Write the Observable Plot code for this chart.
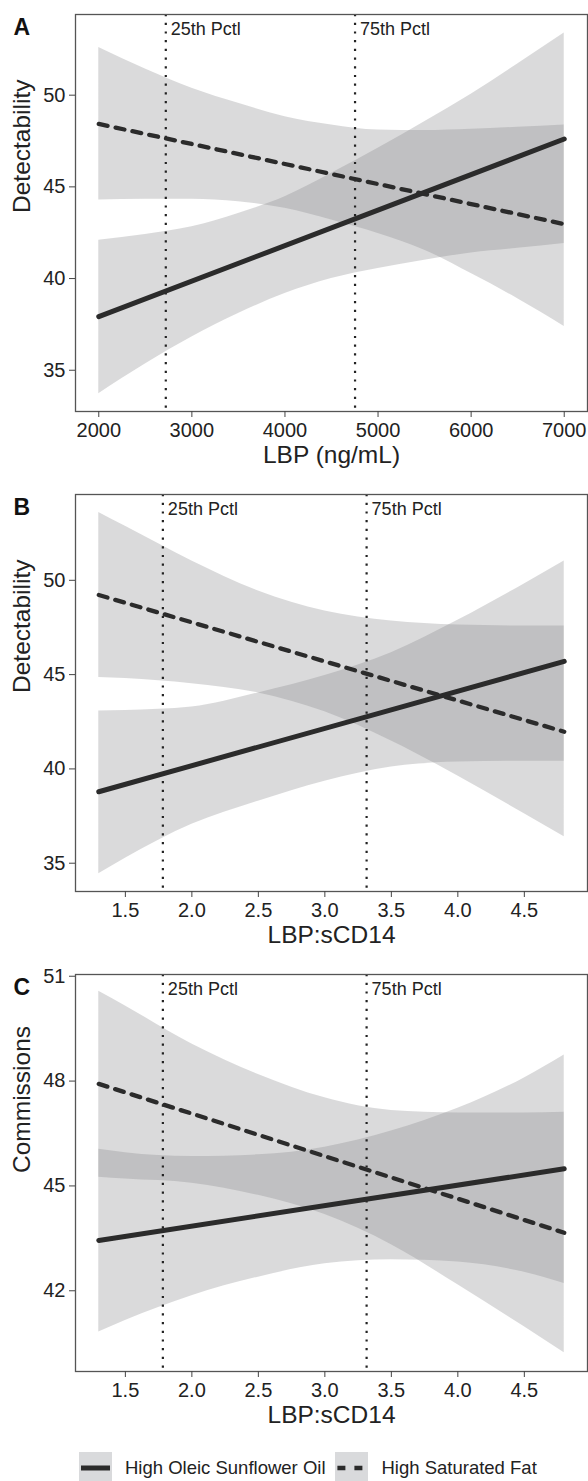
<!DOCTYPE html>
<html><head><meta charset="utf-8">
<script src="https://cdn.jsdelivr.net/npm/d3@7"></script>
<script src="https://cdn.jsdelivr.net/npm/@observablehq/plot@0.6"></script>
<style>
body{margin:0;background:#fff;font-family:"Liberation Sans",Arial,sans-serif;color:#222;}
#chart{width:588px;}
#chart svg{display:block;}
.legend{position:relative;width:588px;height:41px;overflow:hidden;}
.legend .lab{position:absolute;top:17px;font-size:18.5px;line-height:22px;white-space:nowrap;color:#222;}
.legend svg{position:absolute;top:12px;}
</style></head><body><div id="chart"></div>
<script>
// ---- data ----
const groups = ["High Oleic Sunflower Oil", "High Saturated Fat"];
const pctLabels = ["25th Pctl", "75th Pctl"];

// Panel A: Detectability vs LBP (ng/mL)
const xA = [2000, 2500, 3000, 3500, 4000, 4500, 5000, 5500, 6000, 6500, 7000];
const hosoLoA = [33.72, 35.34, 36.81, 38.09, 39.18, 40.0, 40.55, 41.0, 41.4, 41.65, 41.91];
const hosoHiA = [42.09, 42.4, 42.82, 43.55, 44.46, 45.74, 47.1, 48.55, 50.05, 51.7, 53.39];
const hsfLoA  = [44.28, 44.32, 44.32, 44.19, 43.83, 43.19, 42.46, 41.55, 40.27, 38.9, 37.39];
const hsfHiA  = [52.6, 51.43, 50.38, 49.56, 48.83, 48.38, 48.1, 48.07, 48.14, 48.25, 48.38];
const hosoLineA = [37.92, 47.61];
const hsfLineA  = [48.43, 42.97];
const pctA = [2720, 4753];

// Panel B: Detectability vs LBP:sCD14
const xB = [1.3, 1.5, 2.0, 2.5, 3.0, 3.5, 4.0, 4.5, 4.8];
const hosoLoB = [34.44, 35.26, 37.06, 38.29, 39.35, 40.1, 40.36, 40.41, 40.41];
const hosoHiB = [43.07, 43.1, 43.28, 44.03, 44.95, 46.16, 47.88, 49.81, 51.02];
const hsfLoB  = [44.85, 44.8, 44.52, 44.03, 43.03, 41.48, 39.63, 37.62, 36.4];
const hsfHiB  = [53.59, 52.86, 51.02, 49.43, 48.37, 47.84, 47.63, 47.58, 47.58];
const hosoLineB = [38.79, 45.7];
const hsfLineB  = [49.22, 41.97];
const pctB = [1.782, 3.314];

// Panel C: Commissions vs LBP:sCD14
const xC = [1.3, 1.5, 2.0, 2.5, 3.0, 3.5, 4.0, 4.5, 4.8];
const hosoLoC = [40.82, 41.15, 41.86, 42.39, 42.77, 42.89, 42.82, 42.53, 42.21];
const hosoHiC = [46.05, 45.95, 45.84, 45.89, 46.11, 46.57, 47.22, 48.09, 48.75];
const hsfLoC  = [45.25, 45.2, 45.08, 44.73, 44.18, 43.32, 42.17, 40.97, 40.23];
const hsfHiC  = [50.57, 50.15, 49.06, 48.19, 47.52, 47.16, 47.09, 47.09, 47.11];
const hosoLineC = [43.44, 45.49];
const hsfLineC  = [47.92, 43.66];
const pctC = [1.782, 3.314];

const xTicksA = [2000, 3000, 4000, 5000, 6000, 7000];
const xTicksBC = [1.5, 2.0, 2.5, 3.0, 3.5, 4.0, 4.5];
const yTicksAB = [35, 40, 45, 50];
const yTicksC = [42, 45, 48, 51];

// ---- drawing ----
const INK = "#2b2b2b";
function panel(o) {
  const band = (lo, hi) => o.xs.map((x, i) => ({x, lo: lo[i], hi: hi[i]}));
  const seg = (ends) => [{x: o.xs[0], y: ends[0]}, {x: o.xs[o.xs.length - 1], y: ends[1]}];
  return Plot.plot({
    width: 588, height: 480,
    marginTop: 14, marginBottom: 69, marginLeft: 75, marginRight: 1,
    style: {fontFamily: "Liberation Sans, Arial, sans-serif", fontSize: "20px", color: "#222", background: "#fff"},
    x: {domain: o.xDomain},
    y: {domain: o.yDomain},
    marks: [
      Plot.areaY(band(o.hosoLo, o.hosoHi), {x: "x", y1: "lo", y2: "hi", fill: "#838489", fillOpacity: 0.3, curve: "monotone-x"}),
      Plot.areaY(band(o.hsfLo, o.hsfHi), {x: "x", y1: "lo", y2: "hi", fill: "#838489", fillOpacity: 0.3, curve: "monotone-x"}),
      Plot.ruleX(o.pct, {x: d => d, stroke: "#222", strokeWidth: 2.2, strokeDasharray: "2.2,6.5"}),
      Plot.text(o.pct, {x: d => d, text: (d, i) => pctLabels[i], frameAnchor: "top", dy: 15, dx: 5, textAnchor: "start", lineAnchor: "middle", fontSize: 18, fill: "#222"}),
      Plot.line(seg(o.hosoLine), {x: "x", y: "y", stroke: INK, strokeWidth: 5}),
      Plot.line(seg(o.hsfLine), {x: "x", y: "y", stroke: INK, strokeWidth: 4.3, strokeDasharray: "9,8.2"}),
      Plot.frame({stroke: "#555", strokeWidth: 1.3}),
      Plot.axisX({ticks: o.xTicks, tickFormat: o.xFmt, tickSize: 6, tickPadding: 5, stroke: "#444", label: null}),
      Plot.axisY({ticks: o.yTicks, tickSize: 6, tickPadding: 4, stroke: "#444", label: null}),
      Plot.text([o.xLabel], {text: d => d, frameAnchor: "bottom", dy: 44, lineAnchor: "middle", fontSize: 24.5, fill: "#222"}),
      Plot.text([o.yLabel], {text: d => d, frameAnchor: "left", dx: -53, rotate: -90, lineAnchor: "middle", fontSize: 24.5, fill: "#222"}),
      Plot.text([o.letter], {text: d => d, frameAnchor: "top-left", dx: -62, dy: 13, textAnchor: "start", lineAnchor: "middle", fontSize: 23, fontWeight: "bold", fill: "#111"})
    ]
  });
}

const chart = document.getElementById("chart");
chart.append(panel({
  letter: "A", xs: xA, hosoLo: hosoLoA, hosoHi: hosoHiA, hsfLo: hsfLoA, hsfHi: hsfHiA,
  hosoLine: hosoLineA, hsfLine: hsfLineA, pct: pctA,
  xDomain: [1750, 7250], yDomain: [32.75, 54.4], xTicks: xTicksA, xFmt: d3.format("d"), yTicks: yTicksAB,
  xLabel: "LBP (ng/mL)", yLabel: "Detectability"
}));
chart.append(panel({
  letter: "B", xs: xB, hosoLo: hosoLoB, hosoHi: hosoHiB, hsfLo: hsfLoB, hsfHi: hsfHiB,
  hosoLine: hosoLineB, hsfLine: hsfLineB, pct: pctB,
  xDomain: [1.125, 4.975], yDomain: [33.5, 54.55], xTicks: xTicksBC, xFmt: d3.format(".1f"), yTicks: yTicksAB,
  xLabel: "LBP:sCD14", yLabel: "Detectability"
}));
chart.append(panel({
  letter: "C", xs: xC, hosoLo: hosoLoC, hosoHi: hosoHiC, hsfLo: hsfLoC, hsfHi: hsfHiC,
  hosoLine: hosoLineC, hsfLine: hsfLineC, pct: pctC,
  xDomain: [1.125, 4.975], yDomain: [39.69, 51.05], xTicks: xTicksBC, xFmt: d3.format(".1f"), yTicks: yTicksC,
  xLabel: "LBP:sCD14", yLabel: "Commissions"
}));

// legend
const leg = document.createElement("div");
leg.className = "legend";
const keys = [
  {left: 78.5, textLeft: 125, dash: null},
  {left: 335.4, textLeft: 381.5, dash: "8,9"}
];
keys.forEach((k, i) => {
  const ns = "http://www.w3.org/2000/svg";
  const s = document.createElementNS(ns, "svg");
  s.setAttribute("width", 33); s.setAttribute("height", 30);
  s.style.left = k.left + "px";
  const r = document.createElementNS(ns, "rect");
  r.setAttribute("width", 33); r.setAttribute("height", 30); r.setAttribute("fill", "#d9dadc");
  s.append(r);
  const l = document.createElementNS(ns, "line");
  l.setAttribute("x1", k.dash ? 2.4 : 2); l.setAttribute("x2", 31);
  l.setAttribute("y1", 16); l.setAttribute("y2", 16);
  l.setAttribute("stroke", INK); l.setAttribute("stroke-width", k.dash ? 4.3 : 5);
  if (k.dash) l.setAttribute("stroke-dasharray", k.dash);
  s.append(l);
  leg.append(s);
  const t = document.createElement("div");
  t.className = "lab"; t.style.left = k.textLeft + "px"; t.textContent = groups[i];
  leg.append(t);
});
chart.append(leg);
</script>
</body></html>
